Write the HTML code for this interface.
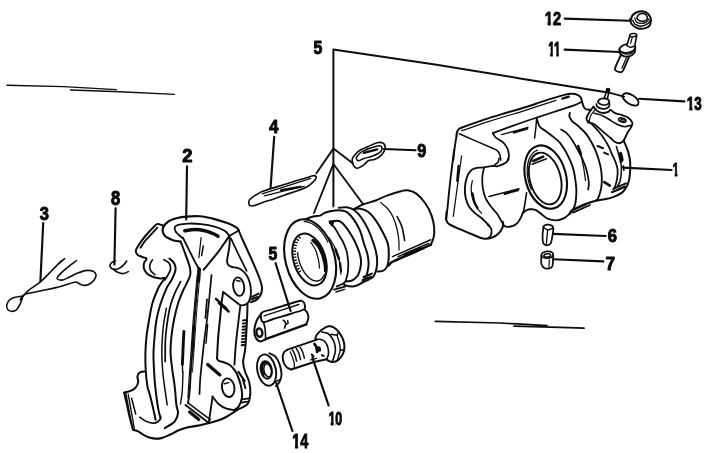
<!DOCTYPE html>
<html lang="en">
<head>
<meta charset="utf-8">
<title>Disc brake caliper - exploded view</title>
<style>
html,body{margin:0;padding:0;background:#fff;}
body{width:723px;height:453px;overflow:hidden;}
svg{display:block;}
svg path,svg ellipse{stroke:#0d0d0d;stroke-linecap:round;stroke-linejoin:round;}
svg path{fill:none;}
svg text{font-family:"Liberation Sans",sans-serif;font-weight:bold;fill:#0a0a0a;stroke:#0a0a0a;stroke-width:1px;stroke-linejoin:round;}
svg g.lbl{opacity:0.999;}
</style>
</head>
<body>
<svg width="723" height="453" viewBox="0 0 723 453">
<rect x="0" y="0" width="723" height="453" fill="#ffffff"/>
<g class="lbl">
<clipPath id="c1"><rect x="541.8" y="7.8" width="22.2" height="14.5"/><rect x="547.62" y="22.1" width="3.16" height="5.9"/><rect x="552.9" y="22.1" width="10.1" height="5.9"/></clipPath>
<text x="544.8" y="25.2" font-size="19.14" textLength="16.2" lengthAdjust="spacingAndGlyphs" clip-path="url(#c1)">12</text>
<clipPath id="c2"><rect x="545.2" y="37" width="18.2" height="15.5"/><rect x="550.2" y="52.3" width="2.62" height="6.1"/><rect x="556.3" y="52.3" width="2.62" height="6.1"/></clipPath>
<text x="548.2" y="55.6" font-size="20.86" textLength="12.2" lengthAdjust="spacingAndGlyphs" clip-path="url(#c2)">11</text>
<clipPath id="c3"><rect x="683.8" y="92.6" width="21" height="14.5"/><rect x="689.38" y="106.9" width="3" height="5.9"/><rect x="694.3" y="106.9" width="9.5" height="5.9"/></clipPath>
<text x="686.8" y="110" font-size="19.14" textLength="15" lengthAdjust="spacingAndGlyphs" clip-path="url(#c3)">13</text>
<clipPath id="c4"><rect x="669.6" y="158.6" width="12.4" height="14.5"/><rect x="674.72" y="172.9" width="2.7" height="5.9"/></clipPath>
<text x="672.6" y="176" font-size="19.14" textLength="6.4" lengthAdjust="spacingAndGlyphs" clip-path="url(#c4)">1</text>
<text x="607.8" y="241.6" font-size="18" textLength="9.2" lengthAdjust="spacingAndGlyphs">6</text>
<text x="605.6" y="269.6" font-size="18.86" textLength="9.6" lengthAdjust="spacingAndGlyphs">7</text>
<text x="417.2" y="156.6" font-size="18" textLength="9" lengthAdjust="spacingAndGlyphs">9</text>
<text x="313.6" y="53.8" font-size="18.29" textLength="8.8" lengthAdjust="spacingAndGlyphs">5</text>
<text x="269.2" y="132.8" font-size="17.71" textLength="9.2" lengthAdjust="spacingAndGlyphs">4</text>
<text x="182.2" y="161.6" font-size="19.14" textLength="10.2" lengthAdjust="spacingAndGlyphs">2</text>
<text x="111" y="205" font-size="19.43" textLength="9.2" lengthAdjust="spacingAndGlyphs">8</text>
<text x="39.8" y="220.2" font-size="19.14" textLength="9.2" lengthAdjust="spacingAndGlyphs">3</text>
<text x="268.6" y="260.4" font-size="18" textLength="8.8" lengthAdjust="spacingAndGlyphs">5</text>
<clipPath id="c5"><rect x="325.4" y="407.4" width="19.8" height="14.5"/><rect x="330.73" y="421.7" width="2.84" height="5.9"/><rect x="335.3" y="421.7" width="8.9" height="5.9"/></clipPath>
<text x="328.4" y="424.8" font-size="19.14" textLength="13.8" lengthAdjust="spacingAndGlyphs" clip-path="url(#c5)">10</text>
<clipPath id="c6"><rect x="289.2" y="429.8" width="22" height="14.8"/><rect x="294.98" y="444.4" width="3.13" height="6"/><rect x="300.2" y="444.4" width="10" height="6"/></clipPath>
<text x="292.2" y="447.6" font-size="19.71" textLength="16" lengthAdjust="spacingAndGlyphs" clip-path="url(#c6)">14</text>
</g>
<path d="M564.6 18.6 L630 20.8" stroke-width="2.15"/>
<path d="M564.6 49.6 L619.4 52" stroke-width="2.15"/>
<path d="M639 98.8 L684.4 101.4" stroke-width="2.15"/>
<path d="M623 167.6 L671.6 170" stroke-width="2.15"/>
<path d="M553 233.9 L605.6 236" stroke-width="2.15"/>
<path d="M553 259.2 L603.4 261.4" stroke-width="2.15"/>
<path d="M384 149 L415.6 150.2" stroke-width="2.15"/>
<path d="M274.2 136.8 L270.6 187.4" stroke-width="2.15"/>
<path d="M187 166.4 L186.2 219.4" stroke-width="2.15"/>
<path d="M115.6 208.4 L114.4 264.5" stroke-width="2.15"/>
<path d="M43.2 223 L40.4 281.4" stroke-width="2.15"/>
<path d="M275.6 263.2 L290.6 311" stroke-width="2.15"/>
<path d="M312.4 357.6 L328.6 405.4" stroke-width="2.15"/>
<path d="M276.2 383 L292.4 431" stroke-width="2.15"/>
<path d="M333.4 206.6 L333.4 49.4 L435 64.4 L520 78.4 L608 92.4 L624 96.6" stroke-width="2"/>
<path d="M316.4 173.2 L333.4 148.6 L352.8 163.2" stroke-width="1.88"/>
<path d="M314 213 L333.4 164 L363 204" stroke-width="1.88"/>
<path d="M6.9 85.2 L63.6 86.6 L116.4 89.6" stroke-width="1.38"/>
<path d="M70.5 90 L120 91.7 L174.3 94.4" stroke-width="1.38"/>
<path d="M435.4 321.4 L500 323 L547 325.6" stroke-width="1.75"/>
<path d="M514 326.2 L560 327.4 L584 328.2" stroke-width="1.75"/>
<path d="M22.4 297.1 C22.1 295.8 19.8 296.4 17.7 296.8 C15.7 297.1 12.1 298 10.3 299.4 C8.4 300.7 7.1 303.3 6.7 305 C6.3 306.7 7 308.4 7.8 309.5 C8.7 310.5 10.1 311.3 11.6 311.3 C13 311.4 15.1 310.9 16.4 309.8 C17.8 308.7 18.8 306.7 19.8 304.6 C20.8 302.5 22.7 298.4 22.4 297.1Z" stroke-width="1.62"/>
<path d="M20.2 299.7 C21.5 298.3 24.7 293.7 28 290.8 C31.3 287.9 36.7 285.1 40.1 282.2 C43.6 279.3 46.2 276.3 48.9 273.6 C51.6 270.9 53.8 268.3 56.4 265.8 C59 263.3 63.2 259.9 64.6 258.7" stroke-width="1.62"/>
<path d="M20.9 298.3 C21.7 297.6 22 295.4 25.4 294.1 C28.8 292.9 36 291.9 41.1 290.8 C46.2 289.7 50.4 289 56 287.6 C61.6 286.2 70.9 282.9 74.7 282.2 C78.4 281.5 77.1 282.8 78.4 283.3 C79.7 283.8 80.9 284.9 82.5 285.2 C84.1 285.4 86.2 285.6 88.1 284.8 C90 284 92.6 282 93.9 280.3 C95.2 278.6 96.2 276.3 96 274.7 C95.7 273.2 94.4 271.7 92.6 271 C90.8 270.3 87.8 270.2 85.1 270.6 C82.5 271.1 79.2 272.5 76.5 273.6 C73.9 274.7 71.5 276.3 69.1 277.3 C66.7 278.4 64 280 62 280.1 C60 280.3 57.5 279.4 57.1 278.5 C56.8 277.5 57.8 276.4 59.7 274.4 C61.7 272.3 66.3 268.4 69.1 266.1 C71.9 263.8 75.3 261.5 76.5 260.5" stroke-width="1.62"/>
<path d="M58.6 263.5 L61.6 260.5" stroke-width="1.38"/>
<path d="M115.5 260.8 C114.8 261.1 112.4 261.9 111.5 262.8 C110.6 263.7 109.7 265.3 110 266.3 C110.3 267.4 111.8 268.8 113.3 269.2 C114.7 269.6 117 269.3 118.8 268.5 C120.6 267.8 122.6 265.8 123.9 264.6 C125.2 263.3 126.3 261.6 126.8 261" stroke-width="1.62"/>
<path d="M113.3 269.2 C114 269.7 116 271.6 117.7 272.3 C119.4 273 121.5 273.7 123.2 273.6 C125 273.5 127.5 272 128.3 271.6" stroke-width="1.62"/>
<path d="M248.8 202.5 C249 201.4 248.4 200.5 250.6 198.7 C252.8 196.9 256.5 194 262.1 191.6 C267.7 189.3 276.9 186.9 284.2 184.6 C291.6 182.2 301.6 179.2 306.4 177.7 C311.2 176.2 311.4 175.9 313 175.7 C314.6 175.5 315.8 175.9 316.1 176.6 C316.4 177.3 316.4 178.4 314.8 180.1 C313.2 181.9 311.5 184.7 306.4 187.2 C301.3 189.7 289.8 193.2 284.2 195.2 C278.7 197.2 276.9 197.9 273.2 199.2 C269.5 200.4 265.4 201.6 262.1 202.7 C258.8 203.8 255.3 205.4 253.3 205.8 C251.2 206.2 250.5 205.9 249.7 205.4 C249 204.8 248.7 203.6 248.8 202.5Z" stroke-width="1.62"/>
<path d="M262.1 193.8 L284.2 186.8 L310.8 178.4" stroke-width="1.25"/>
<path d="M264.3 195.8 L284.2 190.8 L304.2 186.3" stroke-width="1.25"/>
<path d="M281.2 190.1 L300.2 186.8" stroke-width="2.38"/>
<path d="M353.9 156 C355.2 154.5 357.1 152.1 359.5 150.5 C361.9 148.9 365.4 147.8 368.3 146.5 C371.3 145.2 374.7 143.3 377.2 142.7 C379.7 142.2 382 142.5 383.4 143.4 C384.7 144.3 385.4 146.4 385.1 148.3 C384.8 150.2 383.3 153.1 381.6 154.9 C379.9 156.8 377.2 158.4 375 159.3 C372.7 160.3 370.2 159.7 368.3 160.7 C366.5 161.6 365.7 163.6 363.9 164.9 C362.1 166.1 359 168.1 357.3 168.2 C355.5 168.2 354.1 166.5 353.3 165.1 C352.4 163.7 352.1 161.3 352.2 159.8 C352.3 158.3 352.7 157.6 353.9 156Z" stroke-width="1.62"/>
<path d="M357.3 156.2 C358.2 155.1 358.4 153.5 361.7 151.8 C365 150.1 373.8 146.9 377.2 146.1 C380.5 145.3 381 146 381.6 146.9 C382.2 147.9 382.2 150.1 380.7 151.6 C379.2 153.1 375.5 154.9 372.7 156 C369.9 157.2 366.3 157.7 363.9 158.5 C361.5 159.2 359.9 160.7 358.6 160.7 C357.3 160.7 356.4 159.2 356.2 158.5 C355.9 157.7 356.3 157.3 357.3 156.2Z" stroke-width="1.5"/>
<path d="M363.9 152.9 L377.2 149.4" stroke-width="2.25"/>
<path d="M261.7 312.7 C263.5 311.1 268.5 310.5 272.1 309.3 C275.6 308.2 278.6 307.3 283.1 305.9 C287.6 304.5 296.1 301.8 299.2 301 C302.4 300.1 301.2 300.5 302.1 301 C303 301.4 304 302.2 304.4 303.6 C304.8 305 306 307.6 304.3 309.1 C302.6 310.6 297.7 311.5 294.2 312.7 C290.6 313.8 286.8 315.1 283.1 316.2 C279.4 317.3 275.3 318.5 272.1 319.5 C268.8 320.5 265.3 322.3 263.5 322.2 C261.6 322 261.4 320.2 261.1 318.6 C260.9 317 259.9 314.2 261.7 312.7Z" stroke-width="1.88"/>
<path d="M264.1 315.8 L283.1 309.6 L298.8 304.5" stroke-width="1.38"/>
<path d="M261.4 313.5 C260.6 314.7 258 317.8 256.8 320.4 C255.7 323 254.6 326.4 254.4 329.2 C254.2 332 254.6 335.1 255.5 337.2 C256.5 339.2 258.5 341 260.2 341.4 C261.8 341.7 264.8 339.5 265.7 339.2" stroke-width="2"/>
<path d="M265.7 339.2 L306.3 324.4" stroke-width="2.5"/>
<path d="M304.5 309.6 C305 310.1 306.8 311.4 307.4 312.9 C308 314.4 308.5 316.5 308.3 318.4 C308.1 320.3 306.6 323.4 306.3 324.4" stroke-width="1.88"/>
<path d="M263.4 322.2 C263.6 323.1 264.6 325.3 265 328.1 C265.4 330.9 265.6 337.1 265.7 338.9" stroke-width="1.62"/>
<ellipse cx="259.4" cy="332.6" rx="2.9" ry="4.2" style="fill:none" stroke-width="2.38" transform="rotate(-10 259.4 332.6)"/>
<path d="M283.3 320.2 C283.6 320.5 284.7 321.3 285.1 321.9 C285.5 322.6 285.7 323.1 285.7 324.1 C285.6 325.2 284.7 327.5 284.5 328.1" stroke-width="1.62"/>
<path d="M285.7 324.1 C286 324 287.6 323.8 288 323.3 C288.3 322.7 287.8 321.2 287.7 320.8" stroke-width="1.5"/>
<ellipse cx="266.6" cy="370.1" rx="9.2" ry="15.9" style="fill:none" stroke-width="1.88" transform="rotate(-12 266.6 370.1)"/>
<ellipse cx="266.3" cy="369.9" rx="5.5" ry="8.9" style="fill:none" stroke-width="1.88" transform="rotate(-12 266.3 369.9)"/>
<ellipse cx="267.7" cy="370.4" rx="3.7" ry="6.7" style="fill:none" stroke-width="1.62" transform="rotate(-12 267.7 370.4)"/>
<path d="M263.8 374.6 C263.8 374.5 263.6 374.2 263.5 374 C263.3 373.8 263.2 373.5 263.1 373.3 C263 373.1 262.9 372.8 262.9 372.6 C262.8 372.3 262.7 372.1 262.6 371.8 C262.5 371.6 262.5 371.3 262.4 371.1 C262.4 370.8 262.3 370.5 262.3 370.3 C262.2 370 262.2 369.8 262.2 369.5 C262.2 369.2 262.1 369 262.1 368.7 C262.1 368.5 262.1 368.2 262.1 368 C262.1 367.7 262.1 367.5 262.2 367.2 C262.2 367 262.2 366.7 262.3 366.5 C262.3 366.3 262.4 366 262.4 365.8 C262.5 365.6 262.5 365.4 262.6 365.2 C262.7 365 262.8 364.8 262.8 364.6 C262.9 364.4 263 364.2 263.1 364.1 C263.2 363.9 263.3 363.8 263.4 363.6 C263.5 363.5 263.7 363.3 263.8 363.2 C263.9 363.1 264 363 264.2 362.9 C264.3 362.8 264.4 362.7 264.6 362.6 C264.7 362.5 264.9 362.5 265 362.4 C265.2 362.4 265.3 362.4 265.5 362.3 C265.6 362.3 265.8 362.3 265.9 362.3 C266.1 362.3 266.3 362.3 266.4 362.4 C266.6 362.4 266.8 362.5 266.9 362.5" stroke-width="2.25"/>
<path d="M269.3 353.3 C270.3 353.9 273.6 354.7 275.4 356.6 C277.1 358.5 278.8 361.9 279.8 364.9 C280.8 367.9 281.5 372.1 281.5 374.8 C281.5 377.6 280.7 379.5 279.8 381.4 C278.9 383.3 276.5 385.3 275.9 386.1" stroke-width="1.88"/>
<path d="M275.6 381.6 L280.4 379.4" stroke-width="1.38"/>
<path d="M287.5 349.7 C286.9 350.2 284.7 351.2 283.9 352.5 C283.1 353.8 282.6 355.7 282.7 357.6 C282.7 359.5 283.4 362 284.1 363.7 C284.9 365.4 286.1 366.8 287.3 367.8 C288.5 368.8 290.5 369.2 291.2 369.5" stroke-width="1.88"/>
<path d="M290.2 351.8 C290.5 352.6 291.5 354.6 292.1 356.4 C292.8 358.2 293.7 360.6 294.1 362.5 C294.4 364.3 294.3 366.7 294.3 367.6" stroke-width="1.25"/>
<path d="M287.5 349.7 L316.2 339.9" stroke-width="1.75"/>
<path d="M291.2 369.5 L314 362 L326.6 359.3" stroke-width="2"/>
<path d="M292.4 349.8 C292.8 350.6 294.1 352.6 294.8 354.5 C295.5 356.3 296.3 359.9 296.6 361" stroke-width="1.5"/>
<path d="M296.4 348.5 C296.8 349.3 298.1 351.3 298.8 353.1 C299.5 355 300.3 358.5 300.6 359.6" stroke-width="1.5"/>
<path d="M300.1 347.3 C300.5 348 301.9 350.1 302.6 351.9 C303.3 353.7 304.1 357.2 304.4 358.2" stroke-width="1.5"/>
<path d="M314.5 344 C314.8 344.5 315.9 345.9 316.4 347.2 C316.8 348.5 317 351 317.1 351.8" stroke-width="2.75"/>
<ellipse cx="318.9" cy="349" rx="1.3" ry="2" style="fill:#111" stroke-width="1.75" transform="rotate(-15 318.9 349)"/>
<path d="M311.8 354.6 L313.5 356.4" stroke-width="2.25"/>
<path d="M321.9 355.2 L323.7 355.9" stroke-width="2"/>
<path d="M310.3 360 L316.4 358.3" stroke-width="1.25"/>
<path d="M315.5 340.1 C315.6 339.5 315.3 337.6 315.9 336.3 C316.5 334.9 317.8 333.4 319.1 332.1 C320.4 330.8 322.1 329.5 323.7 328.5 C325.3 327.5 326.9 326.5 328.5 326.3 C330.2 326.1 332 326.4 333.6 327.3 C335.3 328.2 337 329.8 338.5 331.6 C339.9 333.5 341.5 335.9 342.5 338.2 C343.5 340.5 344.2 343.2 344.4 345.5 C344.6 347.7 344.2 349.9 343.7 351.8 C343.2 353.6 342.4 355.1 341.3 356.6 C340.2 358.1 338.5 359.9 337 360.8 C335.5 361.7 333.6 362 332.2 362 C330.8 362 329.5 361.2 328.5 360.8 C327.6 360.3 326.9 359.3 326.6 359.1" stroke-width="2"/>
<path d="M316.4 339.4 C317.2 339.4 319.7 338.9 321.2 339.4 C322.8 339.9 324.5 341.1 325.6 342.6 C326.7 344 327.6 346.2 328 348.1 C328.5 350.1 328.7 352.4 328.5 354.2 C328.3 356 327.1 358.1 326.8 358.8" stroke-width="1.62"/>
<path d="M322 332.1 C322.9 332.3 325.9 332.3 327.6 333.3 C329.3 334.4 331 336.3 332.2 338.2 C333.4 340.1 334.3 342.2 334.8 344.5 C335.4 346.8 335.5 349.6 335.3 351.8 C335.1 354 334.1 356.2 333.6 357.9 C333.1 359.5 332.4 361.3 332.2 362" stroke-width="1.62"/>
<path d="M331 334.3 L337 335.3 L338.7 331.9" stroke-width="1.38"/>
<path d="M337 335.3 C337.4 336.6 338.9 340.5 339.4 343 C340 345.6 340.3 348.1 340.2 350.3 C340 352.6 338.8 355.4 338.5 356.4" stroke-width="1.38"/>
<path d="M340.2 350.3 L343.8 349.8" stroke-width="1.38"/>
<path d="M338.5 356.4 L337 360.8" stroke-width="1.25"/>
<path d="M543.7 226.1 C544.3 225.5 545.7 224.7 547 224.6 C548.2 224.5 550.4 224.8 551.4 225.4 C552.5 225.9 553.1 226.4 553.3 228 C553.5 229.6 553 232.5 552.5 235.1 C552.1 237.7 551.6 241.7 550.7 243.4 C549.8 245.1 548.3 245.3 547.1 245.3 C545.9 245.2 544 244.8 543.2 243.1 C542.5 241.4 542.6 237.5 542.6 235.1 C542.6 232.7 543.1 230.1 543.2 228.6 C543.4 227.1 543.1 226.8 543.7 226.1Z" stroke-width="1.75"/>
<path d="M543.7 227.4 C544.4 227.8 546.2 229.7 547.7 229.8 C549.3 230 552.1 228.5 553 228.3" stroke-width="1.38"/>
<path d="M547.7 230 L546.3 244.1" stroke-width="1.38"/>
<ellipse cx="547.3" cy="254.8" rx="5.9" ry="3.4" style="fill:none" stroke-width="1.75" transform="rotate(-4 547.3 254.8)"/>
<path d="M541.4 255.2 C541.4 256.7 540.9 262 541.4 264.1 C541.9 266.3 543.1 267.1 544.3 267.9 C545.6 268.6 547.6 268.8 549 268.5 C550.3 268.2 551.6 268.2 552.4 266 C553.1 263.8 553.1 257.2 553.3 255.5" stroke-width="1.75"/>
<ellipse cx="547.3" cy="255.4" rx="3.4" ry="1.7" style="fill:none" stroke-width="1.5" transform="rotate(-4 547.3 255.4)"/>
<path d="M549.3 259.8 L549 267.6" stroke-width="1.25"/>
<path d="M630.2 18.7 C630.4 19.6 630.4 22.4 631.6 24 C632.8 25.6 635.4 27.5 637.6 28.3 C639.8 29 642.6 28.9 644.7 28.4 C646.7 27.9 648.8 26.6 649.8 25.3 C650.8 23.9 650.7 21 650.9 20.1" stroke-width="2"/>
<path d="M631.1 19.8 C631.3 19 631.3 16.4 632.7 15 C634 13.6 637 11.9 639.2 11.5 C641.4 11 644 11.4 645.7 12.2 C647.5 13 648.9 14.7 649.8 16.1 C650.7 17.4 650.7 19.5 650.9 20.1" stroke-width="2"/>
<path d="M637.1 17.3 C637.4 16.4 638.3 14.7 639.6 14.1 C640.8 13.5 643.2 13.3 644.5 13.8 C645.8 14.2 647 15.9 647.3 17 C647.6 18 647.2 19.4 646.3 20.1 C645.3 20.8 643.1 21.3 641.7 21.2 C640.3 21.1 638.6 20.3 637.8 19.6 C637 19 636.8 18.2 637.1 17.3Z" stroke-width="1.62"/>
<path d="M632.8 20.5 C633.3 21.1 633.8 23.4 635.3 24.4 C636.9 25.3 639.9 26.3 642 26.1 C644.1 26 646.5 24.6 647.9 23.7 C649.2 22.7 649.9 21 650.3 20.5" stroke-width="1.5"/>
<path d="M634.8 18 C635.1 18.7 635.2 21 636.4 21.9 C637.5 22.8 640 23.3 641.7 23.3 C643.4 23.3 645.3 22.8 646.4 22.1 C647.6 21.4 648.4 19.6 648.7 19.1" stroke-width="1.25"/>
<ellipse cx="627.4" cy="48.4" rx="8" ry="4.3" style="fill:none" stroke-width="1.88" transform="rotate(-10 627.4 48.4)"/>
<path d="M629.7 36 L636.7 35.7 L634.6 46.3 L626.8 46.6Z" stroke-width="0.12" style="fill:#fff;stroke:#fff"/>
<ellipse cx="633.2" cy="35.2" rx="3.5" ry="1.6" style="fill:none" stroke-width="1.5" transform="rotate(-8 633.2 35.2)"/>
<path d="M629.7 36 L627 45.2" stroke-width="1.62"/>
<path d="M636.7 35.7 L634.8 45.6" stroke-width="1.62"/>
<path d="M632.1 37.8 L630.6 43.4" stroke-width="1.25"/>
<path d="M626.8 45.6 C627.4 45.9 629 47.3 630.4 47.3 C631.7 47.4 634.2 46.2 635 45.9" stroke-width="1.5"/>
<path d="M619.4 49.4 C619.5 50 619.1 51.9 619.8 53 C620.5 54.1 622 55.6 623.7 56.2 C625.3 56.7 627.9 56.7 629.7 56.2 C631.4 55.6 633.3 54.3 634.3 53 C635.2 51.6 635.1 48.9 635.3 48" stroke-width="1.88"/>
<path d="M620.5 51.6 C621.2 52 623.1 53.7 624.7 54 C626.4 54.4 628.7 54.2 630.4 53.7 C632 53.2 633.9 51.3 634.6 50.9" stroke-width="1.25"/>
<path d="M620.8 55.1 C619.9 57.2 616 65.2 615.2 67.8 C614.4 70.4 615.1 69.9 615.9 70.6 C616.7 71.3 619 72.1 620.1 72.1 C621.3 72.1 621.5 73.2 623 70.6 C624.4 68.1 628 59.2 629 56.9" stroke-width="1.88"/>
<path d="M621.9 68.2 L626.5 57.6" stroke-width="1.25"/>
<ellipse cx="630.6" cy="99.4" rx="9" ry="4.6" style="fill:none" stroke-width="1.88" transform="rotate(32 630.6 99.4)"/>
<path d="M456.5 136 C456.6 135.4 456.6 133.3 457 132.2 C457.4 131.1 457.8 130.2 458.6 129.4 C459.4 128.6 457.7 129.1 462 127.5 C466.3 125.9 476.8 122 484.2 119.6 C491.6 117.1 499 115 506.4 112.8 C513.8 110.6 522.5 108.2 528.5 106.3 C534.5 104.4 536.1 103.5 542.1 101.6 C548.1 99.7 559.3 96.2 564.3 94.9 C569.3 93.6 569.8 93.8 572 93.8 C574.2 93.8 576 94.2 577.5 94.9 C579 95.6 580.1 96.6 580.9 97.7 C581.6 98.8 581.5 100.1 582 101.6 C582.5 103.1 582.9 105.3 583.6 106.6 C584.3 107.9 585.2 108.8 586.4 109.3 C587.6 109.8 590.1 109.8 590.8 109.9" stroke-width="2"/>
<path d="M461.5 130.6 L466 129.3 L484.2 122.8 L506.4 116 L520 112.2 L536.6 106.6 L556 100.3" stroke-width="1.25"/>
<path d="M562.4 98.6 L568.8 96.7" stroke-width="2.38"/>
<path d="M456.5 135.8 C456.2 137.8 455.2 144 454.6 148.1 C454.1 152.1 453.5 158 453.3 160" stroke-width="1.88"/>
<path d="M459.3 133.8 L474.9 140.6 L491.5 147.7" stroke-width="1.56"/>
<path d="M492.8 133.1 C497.3 131.4 512.7 125.8 520 123.2 C527.3 120.6 530.1 119.7 536.6 117.6 C543.1 115.5 552.2 112.5 558.7 110.4 C565.2 108.3 571.6 106.3 575.3 104.9 C579 103.5 579.9 102.7 580.8 102.2" stroke-width="1.75"/>
<path d="M501.5 134.7 L528 127.4" stroke-width="1.25"/>
<path d="M514 132.4 L527 128.6" stroke-width="2.5"/>
<path d="M492.8 133.1 C493.3 133.9 493.9 135.9 495.6 137.4 C497.4 139 501.2 140.5 503.1 142.3 C505 144 506.3 146 507.3 148.1 C508.2 150.1 508.7 152.7 508.9 154.7 C509.1 156.7 508.5 159.1 508.4 160" stroke-width="1.75"/>
<path d="M491.5 147.7 C492.5 148.2 495.9 149.4 497.3 150.6 C498.7 151.7 499.2 153.1 499.8 154.7 C500.4 156.3 500.6 159.1 500.8 160" stroke-width="1.62"/>
<path d="M536.6 118 L536 126.5 L534.6 138.1" stroke-width="1.5"/>
<path d="M620.7 153 C620.9 153.6 621.4 155.2 621.7 156.4 C622 157.5 622.3 159.4 622.4 160" stroke-width="2.5"/>
<ellipse cx="608" cy="89.9" rx="1.7" ry="1.5" style="fill:#111" stroke-width="1.5"/>
<path d="M606.5 91.7 L604.1 98.4" stroke-width="1.62"/>
<path d="M609 92.1 L607.3 98.8" stroke-width="1.62"/>
<path d="M598.1 102 C598.2 101.7 598.3 100.7 598.8 100.2 C599.2 99.7 599.8 99.1 600.7 98.8 C601.5 98.5 602.8 98.3 603.9 98.3 C604.9 98.3 606.1 98.5 607 98.9 C607.8 99.3 608.5 100.1 608.9 100.7 C609.3 101.4 609.2 102.5 609.2 102.8" stroke-width="1.75"/>
<path d="M598.1 102 C598.4 102.3 599 103.3 599.8 103.8 C600.7 104.3 601.9 104.8 603 105 C604.1 105.1 605.4 105.1 606.5 104.7 C607.5 104.4 608.8 103.1 609.2 102.8" stroke-width="1.62"/>
<path d="M596.4 104 C596.5 104.4 596.3 105.6 597 106.3 C597.7 107.1 599.2 108 600.6 108.3 C602 108.7 604.1 109 605.5 108.7 C606.8 108.4 608.2 107.5 608.8 106.7 C609.5 105.8 609.4 104 609.5 103.5" stroke-width="1.75"/>
<path d="M593.7 107 C594.2 107.6 595.2 109.4 596.6 110.4 C597.9 111.3 600 112.6 601.8 112.9 C603.6 113.2 606.1 112.7 607.5 112.2 C608.9 111.7 609.7 110.2 610.2 109.9" stroke-width="1.88"/>
<path d="M593.5 106.6 C592.8 107.5 590.4 110.4 589.2 112.4 C588 114.3 586.7 116.5 586.5 118.2 C586.4 119.9 587.9 121.8 588.2 122.5" stroke-width="1.88"/>
<path d="M595.8 108.6 C595 109.7 592 113.2 590.9 115.2 C589.7 117.3 589.5 119.9 589.2 120.9" stroke-width="1.25"/>
<path d="M610.8 109.9 C611.5 110.4 613.3 112.4 615.1 113.2 C616.9 114 619.2 114.2 621.4 114.9 C623.5 115.6 626.2 116.3 628 117.5 C629.9 118.8 631.8 121 632.3 122.5 C632.9 124.1 632.1 125.3 631.3 126.8 C630.6 128.4 629 130.2 628 131.8 C627.1 133.4 626.5 134.8 625.7 136.5 C624.9 138.1 624.2 140.3 623 141.4 C621.9 142.6 620.4 143.2 619.1 143.3 C617.7 143.3 616.1 142.6 614.8 141.8 C613.4 140.9 611.4 138.7 610.8 138.1" stroke-width="1.88"/>
<path d="M594.2 113.2 C595.7 113.7 600.3 114.6 603.1 115.9 C606 117.1 608.9 119.4 611.4 120.9 C613.9 122.3 615.9 123.9 618.1 124.8 C620.3 125.8 622.5 126.6 624.7 126.7 C626.9 126.7 630.2 125.4 631.3 125.2" stroke-width="1.62"/>
<ellipse cx="622.3" cy="120.2" rx="3.8" ry="2" style="fill:none" stroke-width="1.62" transform="rotate(18 622.3 120.2)"/>
<ellipse cx="622.5" cy="120.4" rx="1.9" ry="0.9" style="fill:none" stroke-width="1.25" transform="rotate(18 622.5 120.4)"/>
<path d="M588.2 122.5 C589.2 122.8 591.4 122.4 594.2 124.2 C596.9 125.9 602 130.8 604.8 133.1 C607.6 135.5 609.8 137.3 610.8 138.1" stroke-width="1.75"/>
<ellipse cx="545.7" cy="177.1" rx="20.3" ry="32.3" style="fill:none" stroke-width="2.12" transform="rotate(-15 545.7 177.1)"/>
<ellipse cx="545.2" cy="178.5" rx="15.4" ry="26.4" style="fill:none" stroke-width="1.88" transform="rotate(-15 545.2 178.5)"/>
<path d="M531.3 189.3 C531.2 189 530.7 188 530.5 187.4 C530.2 186.7 530 186 529.7 185.4 C529.5 184.7 529.3 184 529.1 183.3 C528.9 182.6 528.7 181.9 528.5 181.2 C528.3 180.5 528.2 179.8 528.1 179.1 C527.9 178.4 527.8 177.7 527.7 177 C527.6 176.3 527.5 175.6 527.4 174.9 C527.4 174.2 527.3 173.5 527.3 172.8 C527.2 172.1 527.2 171.4 527.2 170.8 C527.2 170.1 527.2 169.4 527.2 168.7 C527.3 168.1 527.3 167.4 527.4 166.8 C527.5 166.1 527.5 165.5 527.6 164.9 C527.7 164.2 527.8 163.6 528 163 C528.1 162.4 528.3 161.8 528.4 161.3 C528.6 160.7 528.8 160.1 529 159.6 C529.2 159.1 529.4 158.5 529.6 158 C529.8 157.5 530.1 157.1 530.3 156.6 C530.6 156.1 530.8 155.7 531.1 155.3 C531.4 154.8 531.7 154.4 532 154.1 C532.3 153.7 532.6 153.3 533 153 C533.3 152.7 533.7 152.3 534 152.1 C534.4 151.8 534.7 151.5 535.1 151.3 C535.5 151 535.9 150.8 536.3 150.6 C536.7 150.5 537.3 150.2 537.5 150.2" stroke-width="1.25"/>
<path d="M533.2 161 L543.2 156.6" stroke-width="2.5"/>
<path d="M532.1 164.3 L546.5 158.8" stroke-width="1.5"/>
<path d="M537 119 C537.4 120.2 538.1 124.4 539.6 126.5 C541.1 128.6 544.4 130.1 546.3 131.5 C548.2 132.9 548.6 133.1 550.9 135 C553.1 136.9 557 139.4 559.8 142.7 C562.6 146 565.3 150.7 567.5 154.9 C569.7 159.2 571.7 163.5 573.1 168.2 C574.5 172.9 575.2 179 575.8 183 C576.3 187 576.5 188.5 576.4 192 C576.3 195.5 575.9 200.7 575.3 203.8 C574.6 206.9 573.4 208.8 572.5 210.4 C571.6 212.1 570.2 213.1 569.7 213.7" stroke-width="1.88"/>
<path d="M561.1 129.4 C562 130 564.8 131.4 566.6 133.2 C568.4 134.9 570.2 137.1 572.1 139.9 C574 142.7 576 146.6 577.7 149.8 C579.4 153 581 155.6 582.5 159 C584 162.4 585.5 166.2 586.5 170 C587.5 173.8 588.5 178.8 588.8 182 C589.1 185.2 588.3 188.2 588.2 189.5" stroke-width="1.75"/>
<path d="M578.2 146 C578.7 147.5 580.1 151.3 581 155 C581.9 158.7 583 164.1 583.8 168.3 C584.5 172.6 585.2 178.5 585.5 180.5" stroke-width="1.25"/>
<path d="M578.2 146 L581 154.3" stroke-width="2.38"/>
<path d="M569.9 113 C569.8 113.6 569 115.2 569.4 116.6 C569.8 117.9 570.5 119.4 572.1 121.1 C573.7 122.8 576.4 124.4 578.8 126.6 C581.2 128.8 584.3 131.5 586.5 134.3 C588.7 137.1 590.3 140.1 592 143.2 C593.7 146.3 595.1 149.2 596.5 153 C597.9 156.8 599.5 162.1 600.4 166.1 C601.3 170.1 601.7 173.4 601.8 177.1 C601.9 180.8 601.8 184.7 601.2 188.2 C600.6 191.7 599 196.2 598.2 198.2 C597.4 200.2 596.8 200 596.5 200.4" stroke-width="1.88"/>
<path d="M588.2 121.1 C589.2 122 592.2 124.4 594.3 126.6 C596.4 128.8 598.7 131.4 600.9 134.3 C603.1 137.2 605.6 141 607.5 144.3 C609.4 147.6 610.7 151.4 612 154.3 C613.3 157.2 614.6 159.6 615.5 162 C616.4 164.4 617.2 166.5 617.5 169 C617.8 171.5 617.7 174.3 617.3 177.1 C616.9 179.9 616 184 615.3 186 C614.6 188 613.5 188.8 613.1 189.3" stroke-width="1.75"/>
<path d="M616.4 146.5 C616.8 147.8 617.9 151.7 618.6 154.3 C619.3 156.9 620 159.7 620.5 162 C621 164.3 621.4 164.9 621.4 168 C621.4 171.1 620.9 177.5 620.3 180.5 C619.6 183.5 618 185.1 617.5 186" stroke-width="1.5"/>
<path d="M619.4 154 L621.4 161.6" stroke-width="2.5"/>
<path d="M623.6 140.4 C624.2 142 626.5 146.9 627.5 149.8 C628.5 152.7 629.1 155.3 629.6 158 C630.1 160.7 630.4 162.5 630.3 166.1 C630.2 169.7 629.9 175.8 629.2 179.3 C628.6 182.8 627.6 184.9 626.4 187.1 C625.2 189.3 624.2 190.9 622 192.6 C619.8 194.3 616.1 196 613.1 197.1 C610.1 198.2 607.1 198.7 604.3 199.3 C601.5 199.9 597.8 200.4 596.5 200.6" stroke-width="2"/>
<path d="M596.5 200.5 C595.4 200.8 592.6 201.6 590 202.5 C587.4 203.4 583.8 204.7 580.8 206 C577.8 207.3 573.9 209.2 572 210.5 C570.1 211.8 570.1 213.2 569.7 213.7" stroke-width="2.25"/>
<path d="M573 212.6 L590 205" stroke-width="1.75"/>
<path d="M571.5 211 L586 204.6" stroke-width="1.25"/>
<path d="M597.6 146 L603.1 148.2" stroke-width="2"/>
<path d="M604.2 152.6 L608.1 154.3" stroke-width="2"/>
<path d="M604.3 182.1 L609.8 185.6" stroke-width="2.75"/>
<path d="M614.2 188.4 L626 183.4" stroke-width="2"/>
<path d="M612 192.2 L625 186.6" stroke-width="2.25"/>
<path d="M623.4 165.8 L623.9 170.4" stroke-width="1.5"/>
<path d="M523.4 212.2 C523.9 211.9 525.3 210.9 526.4 210.4 C527.5 209.9 528.4 209.4 529.9 209.3 C531.4 209.2 533.5 209.2 535.4 209.9 C537.2 210.6 539 212.2 541 213.7 C543 215.2 545 217.6 547.6 218.7 C550.2 219.8 553.7 220.5 556.5 220.4 C559.3 220.3 562 219.2 564.2 218.1 C566.4 217 568.8 214.4 569.7 213.7" stroke-width="1.88"/>
<path d="M526.6 192.7 C526.3 194.5 525.5 200.5 524.9 203.8 C524.3 207.1 523.6 211.1 523.3 212.6" stroke-width="1.62"/>
<path d="M454.1 150 C453.4 155.5 451.1 173.5 450 183.2 C448.9 192.9 448.1 202 447.5 208.1 C446.8 214.2 446.2 217.8 446 219.7" stroke-width="1.88"/>
<path d="M461.6 156 C461 160 459.6 169.8 458.3 179.9 C456.9 189.9 454.1 210.3 453.3 216.4" stroke-width="1.25"/>
<path d="M458.6 165.9 L457.3 180.9" stroke-width="2.38"/>
<path d="M508.4 158.3 C508 159 507.8 161.3 506.1 162.6 C504.3 163.9 500.2 165.5 498.1 166.1 C495.9 166.7 495.6 165.7 493.1 165.9 C490.6 166.2 486.2 167 483.2 167.4 C480.1 167.8 477.1 167.6 474.9 168.3 C472.6 168.9 471.3 169.9 469.9 171.6 C468.5 173.2 467.4 175.4 466.6 178.2 C465.7 181 465 184.9 464.9 188.2 C464.8 191.5 465 195.1 465.7 198.1 C466.4 201.2 467.5 203.9 469 206.4 C470.6 208.9 472.8 211.1 474.9 213.1 C476.9 215 479.6 216.4 481.5 218 C483.4 219.7 485.3 221.8 486.5 223 C487.6 224.3 488.1 225.2 488.5 225.7" stroke-width="1.88"/>
<path d="M499.1 158.3 C498.9 158.9 499 160.7 498.1 162 C497.2 163.2 494.2 165.1 493.4 165.8" stroke-width="1.62"/>
<path d="M484 168.3 C483.7 169.6 482.5 173.2 482.3 176.6 C482.1 179.9 482.3 184.6 482.8 188.2 C483.4 191.8 484.2 195 485.6 198.1 C487.1 201.3 489.5 204.6 491.5 207.3 C493.4 209.9 495.7 211.8 497.3 213.9 C498.8 216 499.6 218 500.6 219.7 C501.5 221.4 502.7 223.3 503.1 224" stroke-width="1.75"/>
<path d="M472.4 180.7 C472.2 182 471.2 185.3 471.2 188.2 C471.2 191.1 471.5 195 472.4 198.1 C473.3 201.3 475 204.8 476.5 207.3 C478 209.8 480.7 212.1 481.5 213.1" stroke-width="1.25"/>
<path d="M472.5 193.5 C472.8 194.8 473.4 199 474.2 201.5 C475 203.9 477 207 477.5 208.1" stroke-width="2.38"/>
<path d="M489 196.5 L519 188.8" stroke-width="1.5"/>
<path d="M504.7 193.8 L518 190" stroke-width="2.38"/>
<path d="M446.6 211.6 C446.6 213 445.9 217.8 446.3 219.9 C446.7 222 446.9 222.7 449.1 224.2 C451.4 225.8 455.9 227.4 459.9 229.2 C463.9 231 469.3 233.3 473.2 234.8 C477.1 236.4 480.1 238 483.2 238.5 C486.2 239 489 238.6 491.5 237.8 C493.9 237.1 496.3 235.6 498.1 234 C499.9 232.4 501.4 230 502.2 228.2 C503.1 226.4 503.1 224 503.2 223.2" stroke-width="2"/>
<path d="M488.1 224.2 C488.7 225.2 491 228 491.5 229.9 C491.9 231.7 491.3 234.1 490.8 235.5 C490.2 236.9 488.6 237.7 488.1 238.2" stroke-width="1.75"/>
<path d="M502.7 221.6 C503 222.2 502.9 224.8 504.1 225.7 C505.2 226.6 507.7 227 509.7 226.7 C511.8 226.4 514.6 225.4 516.3 224 C518.1 222.7 519.3 220.3 520.3 218.6 C521.4 216.8 521.9 214.8 522.5 213.6 C523.1 212.4 523.7 211.9 524 211.6" stroke-width="1.88"/>
<path d="M353.9 209.2 C355.4 208.4 359.7 205.8 363.2 204.4 C366.7 203 371.1 202.3 375 200.8 C378.9 199.3 382.6 197.2 386.9 195.6 C391.2 194 397.3 192.1 400.8 191.2 C404.3 190.3 405.2 189.9 407.8 190.3 C410.4 190.8 413.7 191.7 416.7 193.9 C419.7 196.2 423.1 200.2 425.6 203.8 C428.1 207.4 430.2 211.7 431.6 215.7 C433 219.7 433.9 223.9 434.2 227.6 C434.5 231.2 434.2 234.7 433.6 237.6 C433 240.5 431.1 243.8 430.6 245" stroke-width="2"/>
<path d="M431 244.6 C428.3 245.8 420.1 249.6 414.7 252 C409.3 254.4 402.6 257.1 398.8 258.8 C395 260.5 393.7 260.9 392 262 C390.3 263.1 389.2 264.9 388.6 265.5" stroke-width="2.5"/>
<path d="M392.5 256.6 L430.8 239.8" stroke-width="1.5"/>
<path d="M398 256.6 L428.6 243.4" stroke-width="1.5"/>
<path d="M394 261.4 L424 248.4" stroke-width="1.5"/>
<path d="M404 254.6 L420 247.8" stroke-width="2.5"/>
<path d="M380.6 202.4 C381.8 203.5 385.9 206.4 388 209 C390.1 211.6 392 214.7 393.5 218 C395 221.3 396.1 225.3 397 229 C397.9 232.7 398.5 236.5 398.8 240 C399.1 243.5 399 248.3 399 250" stroke-width="1.25"/>
<path d="M397.1 216.5 C397.9 218.2 400.8 223 402 227 C403.2 231 404.2 238.2 404.6 240.5" stroke-width="1.62"/>
<path d="M330 222.8 C330.8 222.5 333.2 221.1 335 220.9 C336.8 220.7 338.9 220.6 340.8 221.8 C342.8 223 344.6 225.4 346.7 228.2 C348.8 231 351.9 236.2 353.4 238.8 C354.9 241.4 355 241.9 355.9 244 C356.8 246.1 358.1 248.8 359 251.5 C359.9 254.2 360.8 257.1 361 260 C361.2 262.9 360.8 266.2 360.2 268.8 C359.6 271.4 359 273.9 357.6 275.8 C356.2 277.8 354 279.6 352.1 280.5 C350.2 281.4 347.2 281.3 346.2 281.5" stroke-width="2"/>
<path d="M305 219.4 C306.4 218.9 310.9 217.1 313.4 216.5 C315.9 215.9 318 216.3 320 215.6 C322 214.9 323 213.3 325.5 212.5 C328 211.7 332.4 210.8 335 210.5 C337.6 210.2 338.9 210.1 341 210.4 C343.1 210.8 345.4 210.9 347.6 212.6 C349.8 214.3 352.3 217.3 354.4 220.4 C356.5 223.5 358.6 227.2 360.2 231.1 C361.8 235 362.9 240.2 364.1 244 C365.3 247.8 366.6 250.8 367.4 254 C368.1 257.2 368.6 260.4 368.6 263.5 C368.6 266.6 368 269.9 367.4 272.5 C366.8 275.1 366.1 277.1 365 279 C363.9 280.9 362.7 282.4 360.7 283.7 C358.7 284.9 355.6 286.2 353 286.5 C350.4 286.8 347 285.9 345.4 285.4 C343.8 284.9 343.9 283.7 343.6 283.4" stroke-width="2"/>
<path d="M338.9 207.8 C340.2 207.7 344.1 206.9 346.7 207.3 C349.3 207.7 352 208.5 354.4 210.2 C356.8 211.9 358.9 214.3 361.2 217.5 C363.5 220.7 365.9 224.7 368 229.1 C370.1 233.5 372.3 239.5 373.8 244 C375.3 248.5 376.3 252.5 376.8 256 C377.3 259.5 377.2 262.3 377 265 C376.8 267.7 376.3 269.9 375.6 272 C374.9 274.1 373.9 276.2 372.6 277.4 C371.3 278.6 368.5 279.1 367.7 279.4" stroke-width="2"/>
<path d="M353.9 209.2 C354.9 209.1 357.8 208.3 360.2 208.7 C362.6 209.1 365.4 209.8 368 211.7 C370.6 213.6 373.4 217 375.8 220.4 C378.2 223.8 380.6 228.1 382.6 232 C384.6 235.9 386.9 240.1 387.9 244 C388.9 247.9 388.9 252 388.8 255.6 C388.7 259.2 388.4 263 387.5 265.5 C386.6 268 385.2 269.5 383.6 270.5 C382 271.5 378.6 271.3 377.6 271.5" stroke-width="2"/>
<path d="M330 222.8 C330.8 223.7 333.4 226 335 228.2 C336.6 230.4 338.1 233.9 339.4 236 C340.7 238.1 341.4 238.5 342.6 241 C343.8 243.5 345.7 247.6 346.6 251.1 C347.5 254.6 348 258.4 348.2 262.1 C348.4 265.8 348.1 270.2 347.7 273.2 C347.3 276.1 346.6 278.1 346 279.8 C345.4 281.5 345.4 282.1 343.8 283.2 C342.2 284.3 337.8 285.9 336.6 286.5" stroke-width="1.75"/>
<path d="M329.6 221.6 L333.4 221 L332.2 225.6Z" stroke-width="2" style="fill:#111"/>
<path d="M363.6 277 L372 273.6" stroke-width="2"/>
<path d="M362.6 280 L371 276.6" stroke-width="2"/>
<path d="M361 283.2 L369 279.6" stroke-width="1.75"/>
<path d="M334 289.6 L345 286.6" stroke-width="2"/>
<path d="M336 292 L344.6 289.4" stroke-width="1.5"/>
<ellipse cx="310.1" cy="259" rx="24.6" ry="40.6" style="fill:none" stroke-width="2.12" transform="rotate(-15 310.1 259)"/>
<ellipse cx="309.5" cy="259.5" rx="15.9" ry="26.7" style="fill:none" stroke-width="2" transform="rotate(-18 309.5 259.5)"/>
<path d="M329 237.7 C330 239.3 333.2 243.9 334.9 247.6 C336.5 251.2 337.9 256.1 338.9 259.6 C339.8 263.1 340.3 266.1 340.6 268.5 C340.9 270.9 340.8 273.1 340.8 274" stroke-width="1.25"/>
<path d="M335.6 249.5 L339 259" stroke-width="2.5"/>
<path d="M340 263 L341 271" stroke-width="2.25"/>
<path d="M304.1 221.5 C304.3 221.5 304.8 221.5 305.2 221.5 C305.5 221.6 305.9 221.6 306.2 221.7 C306.6 221.7 306.9 221.8 307.3 221.9 C307.6 222 308 222.1 308.4 222.2 C308.7 222.3 309.1 222.4 309.4 222.6 C309.8 222.7 310.2 222.8 310.5 223 C310.9 223.2 311.2 223.3 311.6 223.5 C312 223.7 312.3 223.9 312.7 224.1 C313 224.3 313.4 224.5 313.8 224.8 C314.1 225 314.5 225.2 314.8 225.5 C315.2 225.8 315.5 226 315.9 226.3 C316.2 226.6 316.6 226.9 316.9 227.2 C317.3 227.5 317.6 227.8 318 228.1 C318.3 228.4 318.6 228.8 319 229.1 C319.3 229.4 319.6 229.8 320 230.1 C320.3 230.5 320.6 230.9 320.9 231.3 C321.3 231.6 321.6 232 321.9 232.4 C322.2 232.8 322.5 233.2 322.8 233.7 C323.1 234.1 323.4 234.5 323.7 234.9 C324 235.4 324.3 235.8 324.6 236.2 C324.9 236.7 325.2 237.2 325.4 237.6 C325.7 238.1 326 238.6 326.3 239 C326.5 239.5 326.8 240 327 240.5 C327.3 241 327.7 241.7 327.8 242" stroke-width="1.25"/>
<path d="M324.3 274.4 C324.2 274.7 323.9 275.6 323.6 276.1 C323.4 276.6 323.1 277.1 322.8 277.5 C322.5 277.9 322.2 278.3 321.8 278.7 C321.5 279.1 321.1 279.4 320.7 279.7 C320.4 279.9 320 280.2 319.5 280.4 C319.1 280.6 318.7 280.7 318.2 280.8 C317.8 280.9 317.3 281 316.9 281 C316.4 281 315.9 281 315.4 280.9 C314.9 280.8 314.4 280.7 313.9 280.6 C313.4 280.4 312.9 280.2 312.4 280 C311.9 279.7 311.4 279.4 310.9 279.1 C310.4 278.8 309.9 278.4 309.4 278 C308.9 277.6 308.4 277.2 307.9 276.7 C307.4 276.2 306.9 275.7 306.5 275.1 C306 274.6 305.5 274 305.1 273.4 C304.6 272.8 304.2 272.1 303.8 271.5 C303.3 270.8 302.9 270.1 302.6 269.4 C302.2 268.7 301.8 267.9 301.5 267.2 C301.1 266.4 300.8 265.7 300.5 264.9 C300.2 264.1 299.9 263.3 299.6 262.5 C299.4 261.7 299.1 260.9 298.9 260.1 C298.7 259.3 298.5 258.4 298.3 257.6 C298.2 256.8 298.1 256 297.9 255.2 C297.8 254.4 297.7 253.2 297.7 252.8" stroke-width="1.38"/>
<path d="M300.2 271.9 C300 271.6 299.6 270.8 299.3 270.3 C299 269.8 298.8 269.2 298.5 268.7 C298.3 268.1 298 267.6 297.8 267 C297.6 266.4 297.3 265.8 297.1 265.3 C296.9 264.7 296.7 264.1 296.5 263.5 C296.4 262.9 296.2 262.3 296 261.7 C295.9 261.1 295.7 260.5 295.6 259.9 C295.5 259.3 295.3 258.7 295.2 258.1 C295.1 257.5 295 256.9 295 256.4 C294.9 255.8 294.8 255.2 294.8 254.6 C294.7 254 294.7 253.4 294.7 252.8 C294.7 252.3 294.7 251.7 294.7 251.1 C294.7 250.6 294.7 250 294.7 249.5 C294.8 248.9 294.8 248.4 294.9 247.9 C295 247.4 295 246.9 295.1 246.4 C295.2 245.9 295.3 245.4 295.5 244.9 C295.6 244.4 295.7 244 295.9 243.5 C296 243.1 296.2 242.6 296.4 242.2 C296.5 241.8 296.7 241.4 296.9 241 C297.1 240.6 297.3 240.3 297.6 239.9 C297.8 239.6 298 239.2 298.3 238.9 C298.5 238.6 298.8 238.3 299 238.1 C299.3 237.8 299.6 237.5 299.9 237.3 C300.2 237.1 300.6 236.8 300.8 236.7" stroke-width="3" stroke-dasharray="1.3 1.7" style="stroke-linecap:butt"/>
<path d="M313 240.4 C313.9 241.3 316.9 243.7 318.5 246 C320.1 248.3 321.4 251.5 322.5 254.5 C323.6 257.5 324.5 261.2 325 264 C325.5 266.8 325.5 269.8 325.6 271" stroke-width="3.25"/>
<path d="M311 242.5 C311.8 243.8 314.2 247.1 315.5 250 C316.8 252.9 317.8 257 318.5 260 C319.2 263 319.3 266.7 319.5 268" stroke-width="1.25"/>
<path d="M180.6 241.5 C179.2 241.2 174.9 240.9 172.3 239.9 C169.7 238.9 166.4 237.6 164.8 235.7 C163.2 233.8 162.2 230.5 162.8 228.2 C163.4 225.8 165.9 223.2 168.2 221.6 C170.5 219.9 173.5 219.1 176.5 218.3 C179.5 217.5 182.2 216.9 186.1 216.6 C190 216.3 194.9 215.9 199.7 216.3 C204.4 216.7 209.9 217.9 214.6 219.1 C219.3 220.3 224.2 221.9 227.9 223.3 C231.6 224.7 234.8 226.3 236.6 227.6 C238.4 228.8 238.5 230.3 238.9 230.8" stroke-width="2.12"/>
<path d="M183.1 238.2 C182.7 237.9 181.8 237.6 180.6 236.5 C179.3 235.4 176.6 233.1 175.6 231.6 C174.6 230.1 174.4 228.5 174.8 227.4 C175.2 226.3 175.9 225.5 178.1 224.9 C180.3 224.3 184.2 223.7 188.1 223.6 C192 223.5 196.9 223.6 201.3 224.1 C205.7 224.6 210.7 225.5 214.6 226.6 C218.5 227.7 222.1 229.2 224.6 230.7 C227.1 232.2 228.5 234.8 229.3 235.6" stroke-width="1.88"/>
<path d="M184.8 230.7 C186.5 230.5 191.4 229.6 194.7 229.6 C198 229.6 201.6 230 204.7 230.7 C207.8 231.3 210.8 232.6 213 233.5 C215.2 234.4 217.2 235.8 218 236.3" stroke-width="3.5"/>
<path d="M229.3 236.1 L238.7 230.5" stroke-width="1.75"/>
<path d="M183.1 238.2 L188.1 248.2 L194.7 261.4 L199 269" stroke-width="1.88"/>
<path d="M229.3 236.1 L217.7 252.7 L203.6 269.8" stroke-width="2"/>
<path d="M201.1 237.7 L198.9 257.6" stroke-width="1.25"/>
<path d="M203.3 246 L201.6 255.6" stroke-width="1.5"/>
<path d="M238.7 230.5 C239.3 232 241 236.2 242.5 239.5 C244 242.8 245.8 246.6 247.5 250.4 C249.2 254.2 251.2 258.3 253 262.5 C254.8 266.7 257.1 271.8 258.6 275.8 C260.1 279.8 261.5 283.5 261.9 286.6 C262.3 289.7 261.7 292.1 260.8 294.3 C259.9 296.5 258 298.6 256.4 299.9 C254.7 301.2 251.8 301.7 250.9 302.1" stroke-width="2"/>
<path d="M230.9 238.3 L237.6 252.7 L246.6 270.8" stroke-width="1.75"/>
<path d="M229.8 237.2 C229.7 238.8 229.8 243.2 229.3 247.1 C228.9 251 227.3 257.4 227.1 260.4 C226.9 263.3 227.4 263.7 228.2 264.8 C229 265.9 230.4 266.5 232 267 C233.6 267.5 235.8 267.2 237.6 267.8 C239.3 268.4 241 269.3 242.5 270.6 C244 271.9 245.6 273.6 246.8 275.5 C248 277.4 248.9 279.6 249.6 282 C250.3 284.4 250.8 287.4 250.9 290 C251 292.6 250.9 295.5 250.3 297.7 C249.7 299.9 248.9 301.9 247.5 303.2 C246.1 304.5 243.7 305.4 242 305.4 C240.3 305.4 238.3 303.6 237.6 303.2" stroke-width="1.88"/>
<ellipse cx="238.7" cy="286.6" rx="5.5" ry="9.3" style="fill:none" stroke-width="1.88" transform="rotate(-8 238.7 286.6)"/>
<path d="M236.6 280.6 L240 281.2" stroke-width="1.5"/>
<path d="M252 296.8 L258.6 293.6" stroke-width="2"/>
<path d="M251.4 299.4 L257.4 297" stroke-width="2"/>
<path d="M164 226 C163 225.7 159.7 224.2 158.2 224.1 C156.7 224 157.1 223.6 154.9 225.7 C152.7 227.8 147.7 233.2 144.9 236.5 C142.1 239.8 139.8 243.3 138.3 245.7 C136.8 248 136 249.1 135.8 250.6 C135.7 252.1 136.2 253.7 137.4 254.8 C138.7 255.9 141.8 256.6 143.3 257.3 C144.8 258 146.5 257.9 146.6 258.9 C146.7 259.9 144.5 261.4 144.1 263.1 C143.7 264.8 143.5 267.1 144.1 268.9 C144.7 270.7 145.8 272.5 147.4 273.9 C149.1 275.3 151.8 276.4 154 277.2 C156.2 277.9 158.7 278.3 160.5 278.4 C162.3 278.5 164.1 278.1 164.8 278" stroke-width="2"/>
<path d="M157.4 227.6 L144.6 241.4 L140.4 247.8" stroke-width="1.88"/>
<path d="M152.4 259.8 C152 260.6 150.2 263 149.9 264.8 C149.6 266.6 149.9 269 150.7 270.6 C151.5 272.2 154.2 274 154.9 274.7" stroke-width="1.62"/>
<path d="M164 259.8 C164.8 260.4 167.9 261.6 169 263.1 C170.1 264.6 170.7 267 170.6 268.9 C170.5 270.8 169.2 272.8 168.2 274.7 C167.2 276.6 165.4 279.1 164.8 280" stroke-width="1.75"/>
<path d="M169.4 258.6 C170.1 259.2 172.6 260.8 173.6 262.4 C174.6 264 175.5 266.5 175.6 268.4 C175.7 270.3 175.2 271.5 174.4 273.6 C173.6 275.7 172.3 278.6 171 281 C169.7 283.4 168.2 284.6 166.5 288.3 C164.8 292 162.4 297.9 160.7 303.2 C159 308.4 157.5 314.2 156.5 319.8 C155.5 325.4 155.1 331 154.6 336.6 C154.1 342.2 153.6 347.7 153.5 353.2 C153.4 358.7 153.7 364.3 154 369.8 C154.3 375.3 154.5 380 155.2 386.4 C155.9 392.8 157.2 402.9 158.1 408.2 C159 413.5 160.2 416.5 160.6 418.2" stroke-width="2"/>
<path d="M164.8 278 C164.3 278.8 162.7 281.1 161.6 282.8 C160.5 284.5 159.7 284.9 158.2 288.3 C156.7 291.7 153.9 297.9 152.4 303.2 C150.9 308.4 150.1 314.2 149.1 319.8 C148.1 325.4 147.1 331 146.5 336.6 C145.9 342.2 145.5 347.7 145.4 353.2 C145.3 358.7 145.4 364.3 145.7 369.8 C146 375.3 146.8 382.5 147.4 386.4 C148 390.3 148.5 389.4 149.4 393 C150.3 396.6 152.1 403.7 153.1 408.2 C154.1 412.7 155.2 417.9 155.6 419.8" stroke-width="2"/>
<path d="M180.6 281.6 C179.6 283.5 176.5 289.1 174.8 293.2 C173.1 297.3 171.5 301.5 170.2 306.5 C168.9 311.5 168 317.4 167.2 323 C166.4 328.6 165.7 333.6 165.4 340 C165.1 346.4 165.2 357.9 165.2 361.5" stroke-width="1.75"/>
<path d="M166.3 308.3 C165.9 310.9 164.3 318.7 163.6 324 C162.9 329.3 162.5 335.1 162.2 340 C161.9 344.9 161.7 348.2 161.8 353.2 C161.9 358.2 162.2 364.3 162.6 369.8 C163 375.3 163.7 380.5 164.5 386.4 C165.3 392.2 166.8 401.8 167.2 404.9" stroke-width="1.5"/>
<path d="M180.6 241.5 C180.8 242.1 181.2 242.9 182 245 C182.8 247.1 184 250.3 185.3 253.9 C186.6 257.5 188.8 263.2 189.6 266.6 C190.4 270 190.6 272 190.3 274.5 C190 277 188.8 278.8 187.6 281.5 C186.4 284.2 184.7 286.9 183.1 290.5 C181.5 294.1 179.6 298.3 178.1 303.2 C176.6 308.1 175.1 314.2 174 319.8 C172.9 325.4 172 331 171.4 336.6 C170.8 342.2 170.4 347.7 170.6 353.2 C170.8 358.7 171.6 364.3 172.3 369.8 C173 375.3 174 380.5 174.7 386.4 C175.4 392.2 175.8 400.4 176.4 404.9 C177 409.4 178.3 410.4 178 413.2 C177.7 416 176.9 419 174.7 421.5 C172.5 424 166.5 427 164.8 428.1" stroke-width="2"/>
<path d="M183.9 331.5 L183.2 344.9 L182.4 364.5" stroke-width="2.88"/>
<path d="M182.4 364.5 L182.6 372" stroke-width="1.38"/>
<path d="M183 372 C182.9 375.3 182.6 386.3 182.2 391.6 C181.8 396.9 180.8 401.9 180.5 404" stroke-width="1.38"/>
<path d="M198.9 269 C198.6 272.5 197.7 281.8 197 290 C196.3 298.2 195.3 308.3 194.6 318 C193.9 327.7 193.2 339 192.6 348 C192 357 191.3 364.7 190.8 372 C190.3 379.3 190.1 386.4 189.6 391.6 C189.1 396.8 188.3 401.3 188 403.2" stroke-width="1.88"/>
<path d="M197.2 275 C196.9 278.5 196 287.8 195.3 296 C194.6 304.2 193.6 314.3 192.9 324 C192.2 333.7 191.5 345 190.9 354 C190.3 363 189.6 370.7 189.1 378 C188.6 385.3 188.1 394.3 187.9 397.6" stroke-width="1.12"/>
<path d="M200.5 269 C200.2 272.5 199.3 281.8 198.6 290 C197.9 298.2 196.9 308.3 196.2 318 C195.5 327.7 194.8 339 194.2 348 C193.6 357 192.7 368 192.4 372" stroke-width="1"/>
<path d="M199 268.5 L198.6 281" stroke-width="3.25"/>
<path d="M194 326 L192.4 352" stroke-width="2.38"/>
<path d="M211.5 275 C211.2 278 210.5 285.8 209.8 293 C209.1 300.2 208.1 310.2 207.2 318 C206.3 325.8 205.2 332.2 204.3 340 C203.4 347.8 202.3 358.3 201.6 365 C200.9 371.7 200.5 375.2 200.2 380 C199.8 384.8 199.6 391.7 199.5 394" stroke-width="1.75"/>
<path d="M207 299.3 L205.4 318" stroke-width="1.75"/>
<path d="M207.6 324.6 L206 343.2" stroke-width="1.5"/>
<path d="M237.6 303.2 L223.2 292.1" stroke-width="1.88"/>
<path d="M223.2 292.1 C222.9 294 222.1 298.6 221.5 303.2 C220.9 307.8 220.5 314.4 219.9 320 C219.3 325.6 218.7 330.7 218.2 337.1 C217.7 343.5 217.2 355 217 358.6" stroke-width="2"/>
<path d="M217 358.6 C217.3 359 217.8 360.3 218.8 360.9 C219.8 361.5 221.4 361.3 223.2 362 C225 362.7 227.8 363.5 229.8 365 C231.8 366.5 233.8 368.6 235.4 371.1 C237 373.6 238.2 376.9 239.2 379.9 C240.2 382.8 241 385.9 241.5 388.8 C242 391.8 242.5 394.7 242 397.6 C241.5 400.6 240 404.4 238.7 406.5 C237.4 408.6 235 409.4 234.3 410" stroke-width="2"/>
<path d="M240.3 306 C240 308.3 239.3 313.9 238.6 320 C237.9 326.1 236.7 335.3 236 342.7 C235.3 350.1 234.7 361 234.4 364.6" stroke-width="1.88"/>
<path d="M247.5 304.5 C247.4 307.1 247.4 312.7 247 320 C246.6 327.3 246 341.2 245.3 348.2 C244.7 355.2 243.1 358 243.1 362 C243.1 366 244.3 368.8 245.3 372.2 C246.3 375.6 248.4 378.6 249.2 382.1 C250 385.6 250.5 389.7 250.3 393.2 C250.1 396.7 249.5 400.8 248.1 403.2 C246.7 405.6 243.8 406.6 242 407.6 C240.2 408.6 238.3 409.1 237.6 409.4" stroke-width="2"/>
<path d="M243 320.5 L246.6 320" stroke-width="1.88"/>
<path d="M242.8 323.6 L246.4 323.1" stroke-width="1.88"/>
<path d="M242.6 326.7 L246.2 326.2" stroke-width="1.88"/>
<path d="M242.5 329.8 L246.1 329.3" stroke-width="1.88"/>
<path d="M242.3 332.9 L245.9 332.4" stroke-width="1.88"/>
<path d="M242.1 336 L245.7 335.5" stroke-width="1.88"/>
<path d="M241.9 339.1 L245.5 338.6" stroke-width="1.88"/>
<path d="M241.7 342.2 L245.3 341.7" stroke-width="1.88"/>
<path d="M241.6 345.3 L245.2 344.8" stroke-width="1.88"/>
<path d="M216 298.8 L226.5 308.7" stroke-width="2.38"/>
<path d="M218.8 303.2 L228.7 311.5" stroke-width="2.38"/>
<path d="M207.7 364.4 L219.9 374.9" stroke-width="3.25"/>
<ellipse cx="228.2" cy="387.7" rx="6.2" ry="9.4" style="fill:none" stroke-width="1.88" transform="rotate(-10 228.2 387.7)"/>
<path d="M224.4 383.8 L228.8 382.6" stroke-width="1.5"/>
<path d="M238.6 372 L244.6 381" stroke-width="2.25"/>
<path d="M243 380 L245.4 388" stroke-width="2"/>
<path d="M242.4 399.4 L248.6 398.4" stroke-width="1.88"/>
<path d="M241.6 402.6 L247.2 401.6" stroke-width="1.88"/>
<path d="M212.6 396.6 L208.7 423.1" stroke-width="1.88"/>
<path d="M212.4 396.5 C213.5 397.8 216.5 402.3 218.8 404.3 C221.2 406.3 223.9 407.8 226.5 408.7 C229.1 409.6 233 409.8 234.3 410" stroke-width="1.88"/>
<path d="M145.4 371.5 C144.5 371.6 141.2 371.5 139.9 372.3 C138.6 373.1 137.7 374.8 137.4 376.4 C137.1 378 138.5 380.3 138.2 382.2 C137.9 384.1 136.9 386.2 135.6 387.6 C134.3 389.1 132.5 390.1 130.6 390.9 C128.7 391.7 125.2 392.3 124.1 392.6" stroke-width="2"/>
<path d="M124.1 392.6 C124.5 394.4 125.6 398.9 126.6 403.2 C127.6 407.5 128.8 413.8 129.9 418.2 C131 422.6 132.6 427.9 133.2 429.8" stroke-width="2"/>
<path d="M133.2 429.8 C134 430.1 136.3 430.4 138.2 431.4 C140.1 432.4 142.3 434.4 144.8 435.6 C147.3 436.8 150.3 438 153.1 438.4 C155.9 438.8 158.6 438.7 161.4 438.1 C164.2 437.5 166.9 436.1 169.7 434.8 C172.5 433.6 174.9 431.9 178 430.6 C181.1 429.4 184.7 428.1 188 427.3 C191.3 426.5 194.5 426.3 197.9 425.6 C201.3 424.9 205.4 423.9 208.7 423.1 C212 422.3 214.8 421.7 217.9 420.6 C221 419.5 223.7 418.4 227 416.5 C230.3 414.6 235.8 410.7 237.6 409.5" stroke-width="2.12"/>
<path d="M125.9 393.3 L132.4 428.9" stroke-width="1.38"/>
<path d="M128.2 394.1 L134.5 429.8" stroke-width="1.38"/>
<path d="M131.6 398.2 L135.7 414" stroke-width="1.5"/>
<path d="M139.9 417.3 C141 418 144 420.5 146.5 421.5 C149 422.5 152.6 423.4 154.8 423.1 C157 422.8 158.8 420.9 159.8 419.8 C160.8 418.7 160.5 417.1 160.6 416.5" stroke-width="1.75"/>
<path d="M185.5 404.9 L196.3 413.2 L208.7 423.1" stroke-width="1.88"/>
<path d="M188.4 403.2 L199.5 411.6 L210.4 419.6" stroke-width="1.5"/>
<path d="M189.6 412 L198.8 419.4" stroke-width="3.25"/>
</svg>
</body>
</html>
